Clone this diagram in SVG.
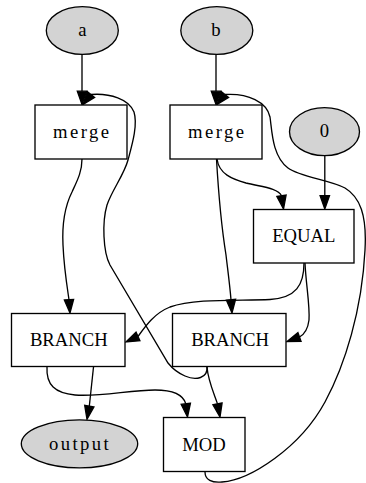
<svg xmlns="http://www.w3.org/2000/svg" width="366" height="483" viewBox="0 0 366 483">
  <style>
    .bg { fill: #ffffff; }
    .node-ellipse { fill: #d3d3d3; stroke: #000000; stroke-width: 1.33; }
    .node-box { fill: #ffffff; stroke: #000000; stroke-width: 1.33; }
    .label { font-family: "Liberation Serif", "Times New Roman", serif; font-size: 18.67px; fill: #000000; text-anchor: middle; }
    .spaced { letter-spacing: 2.4px; }
    .edge { fill: none; stroke: #000000; stroke-width: 1.33; }
    .arrowhead { fill: #000000; stroke: #000000; stroke-width: 1.33; stroke-linejoin: miter; }
  </style>

  <rect class="bg" x="0" y="0" width="366" height="483"/>

  <!-- connectors -->
  <g id="edges">
    <!-- a -> merge -->
    <path class="edge" d="M82,54.5 L82,91.2"/>
    <polygon class="arrowhead" points="77.3,91.2 86.7,91.2 82,104.5"/>
    <!-- b -> merge -->
    <path class="edge" d="M216,54.5 L216,91.2"/>
    <polygon class="arrowhead" points="211.3,91.2 220.7,91.2 216,104.5"/>
    <!-- merge (left) -> BRANCH (left) -->
    <path class="edge" d="M82,159 C82,172 77,181 72,192 C64,208 62,225 63,245 C64,268 67,286 69,299.7"/>
    <polygon class="arrowhead" points="64.4,300 73.6,299.4 70,313"/>
    <!-- merge (right) -> EQUAL -->
    <path class="edge" d="M217,159 C219,174 232,179 246,183 C262,187 278,188 281.5,195.8"/>
    <polygon class="arrowhead" points="276.9,196.5 286.1,195.1 283.5,209"/>
    <!-- 0 -> EQUAL -->
    <path class="edge" d="M324.8,156 L324.8,195.7"/>
    <polygon class="arrowhead" points="320.1,195.7 329.5,195.7 324.8,209"/>
    <!-- merge (right) -> BRANCH (right) -->
    <path class="edge" d="M216.5,159 C218,185 222,230 226,255 C228,272 230,287 231,299.7"/>
    <polygon class="arrowhead" points="226.4,300.1 235.6,299.3 232,313"/>
    <!-- EQUAL -> BRANCH (left) -->
    <path class="edge" d="M304,263 C304,285 296,298 270,299.5 C240,301 195,298 170,307 C155,313 146,325 138,336.5"/>
    <polygon class="arrowhead" points="139.95,340.75 136.05,332.25 126,342"/>
    <!-- EQUAL -> BRANCH (right) -->
    <path class="edge" d="M305,263 C306,285 310,305 309,320 C308,328 305,334 299.5,337"/>
    <polygon class="arrowhead" points="301.08,341.39 297.92,332.61 287,341.5"/>
    <!-- BRANCH (left) -> output -->
    <path class="edge" d="M93.5,367 L89.3,406.2"/>
    <polygon class="arrowhead" points="93.9,407 84.7,405.4 87,419.3"/>
    <!-- BRANCH (left) -> MOD -->
    <path class="edge" d="M47,367 C46,385 55,393 75,395 C100,397 130,390 155,390 C172,390 183,394 185.8,403.8"/>
    <polygon class="arrowhead" points="190.43,403.2 181.17,404.4 187.5,417"/>
    <!-- BRANCH (right) -> MOD -->
    <path class="edge" d="M207,367 C208,380 213,391 217.5,403.9"/>
    <polygon class="arrowhead" points="222.09,403.02 212.91,404.78 220,417"/>
    <!-- BRANCH (right) -> merge (left), back edge -->
    <path class="edge" d="M207,367 C208,378 196,381 185,376 C178,373 172,368 168,363 L110,265 C103,252 102,222 107,205 C112,190 124,175 128,160 C132,145 138,125 134,112 C129,99 110,93 91,94.5"/>
    <polygon class="arrowhead" points="94.65,97.42 87.35,91.58 83,104.5"/>
    <!-- MOD -> merge (right), back edge -->
    <path class="edge" d="M205,472 C205,480 212,483 222,482 C250,480 300,448 325,402 C345,365 362,310 365,250 C367,215 360,197 345,188 C330,180 300,177 288,168 C272,156 272,130 270,117 C267,102 248,93 225,94.5"/>
    <polygon class="arrowhead" points="228.65,97.42 221.35,91.58 217,104.5"/>
  </g>

  <!-- nodes -->
  <g id="node-a">
    <ellipse class="node-ellipse" cx="82.3" cy="30.5" rx="36" ry="23.8"/>
    <text class="label" x="82.3" y="35.7">a</text>
  </g>
  <g id="node-b">
    <ellipse class="node-ellipse" cx="216.8" cy="30.5" rx="36" ry="23.8"/>
    <text class="label" x="216" y="35.7">b</text>
  </g>
  <g id="node-zero">
    <ellipse class="node-ellipse" cx="324.5" cy="131.7" rx="35" ry="24"/>
    <text class="label" x="324.5" y="137">0</text>
  </g>
  <g id="node-merge-a">
    <rect class="node-box" x="35" y="105" width="92" height="54"/>
    <text class="label spaced" x="82.2" y="137.5">merge</text>
  </g>
  <g id="node-merge-b">
    <rect class="node-box" x="170" y="105" width="92" height="54"/>
    <text class="label spaced" x="217.2" y="137.5">merge</text>
  </g>
  <g id="node-equal">
    <rect class="node-box" x="253.5" y="209.5" width="100.5" height="53.5"/>
    <text class="label" x="303.8" y="242.4">EQUAL</text>
  </g>
  <g id="node-branch-left">
    <rect class="node-box" x="11.5" y="313.5" width="113.5" height="53"/>
    <text class="label" x="68.8" y="346">BRANCH</text>
  </g>
  <g id="node-branch-right">
    <rect class="node-box" x="172.5" y="313.5" width="113.5" height="53"/>
    <text class="label" x="230" y="346">BRANCH</text>
  </g>
  <g id="node-output">
    <ellipse class="node-ellipse" cx="79.5" cy="443.8" rx="58.2" ry="24"/>
    <text class="label spaced" x="80" y="449.5">output</text>
  </g>
  <g id="node-mod">
    <rect class="node-box" x="163.5" y="417.5" width="81.5" height="54"/>
    <text class="label" x="204" y="450.6">MOD</text>
  </g>
</svg>
